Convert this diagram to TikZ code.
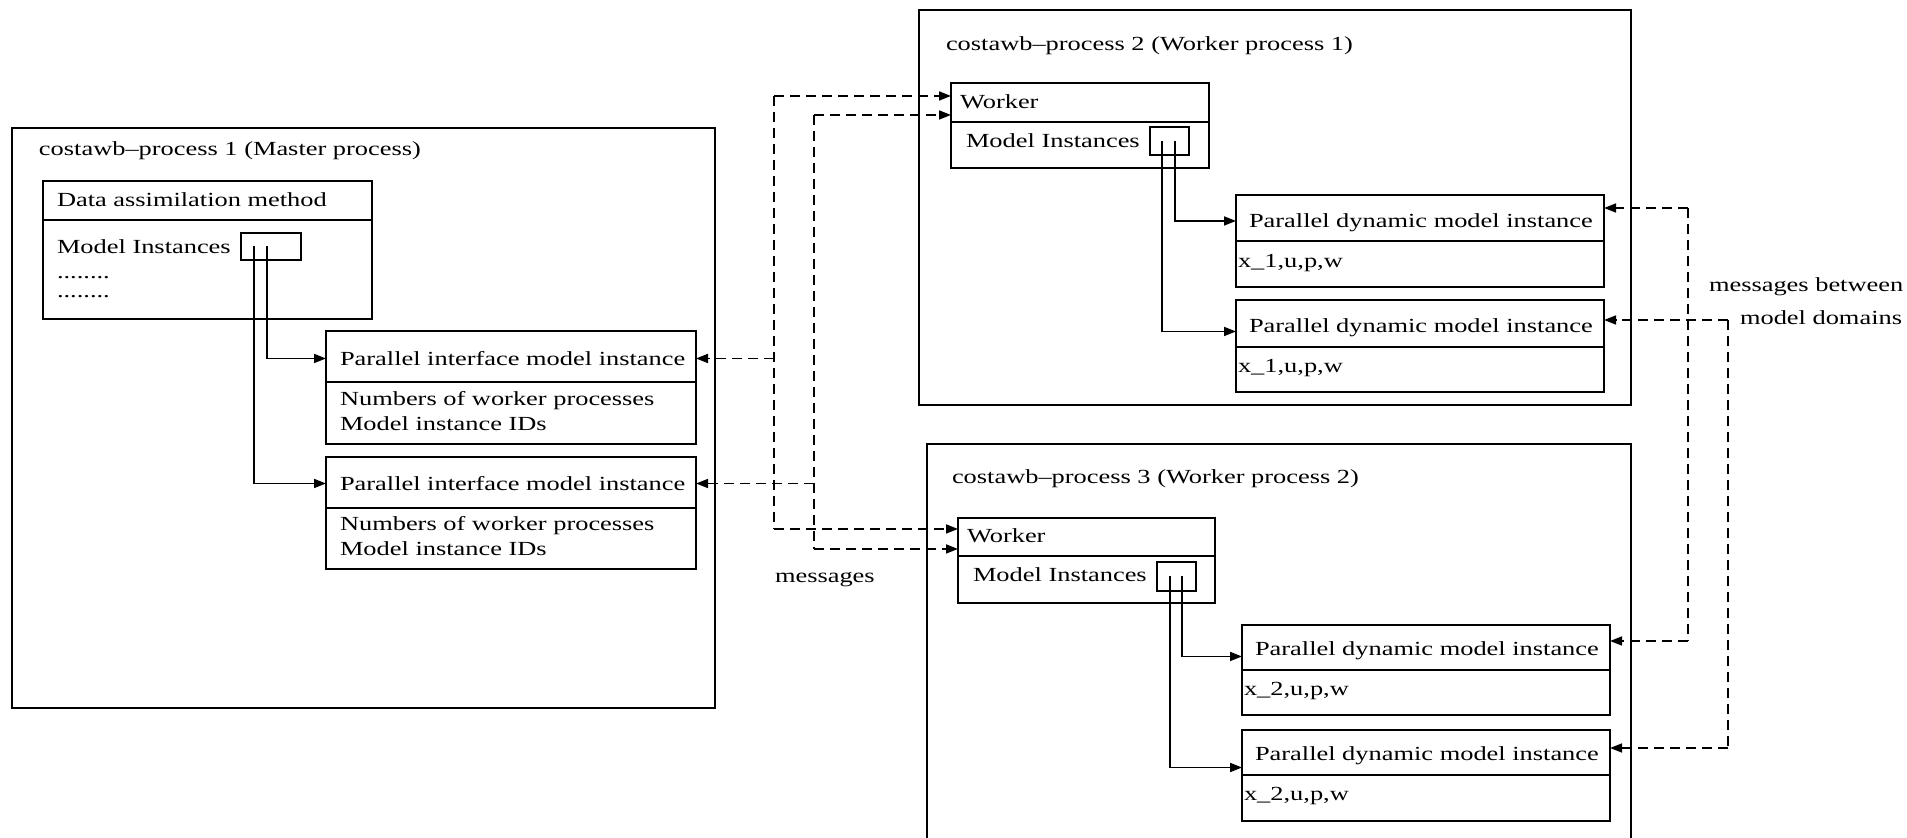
\documentclass[tikz,border=0pt]{standalone}
\usepackage{fontspec}
\setmainfont{Liberation Serif}[FakeStretch=1.32]
\usetikzlibrary{arrows.meta,fit}

\begin{document}
\begin{tikzpicture}[x=0.5pt,y=-0.5pt,
  every node/.style={inner sep=0pt,outer sep=0pt},
  frame/.style={draw,line width=0.85pt},
  lbl/.style={anchor=base west,font=\fontsize{10}{12.5}\selectfont},
  link/.style={line width=0.85pt,-{Triangle[length=6pt,width=4.5pt]}},
  msg/.style={line width=0.85pt,dash pattern=on 5pt off 3pt},
  msgtip/.style={msg,-{Triangle[length=6pt,width=4.5pt]}},
]
\useasboundingbox (0,0) rectangle (1907,838);

% ---------------- master process ----------------
\node[frame,fit={(12,128) (715,708)}] (proc1) {};
\node[lbl] (t1) at (39,156) {costawb--process 1 (Master process)};

\node[frame,fit={(43,181) (372,319)}] (da) {};
\node[frame,fit={(43,181) (372,220)}] (dah) {};
\node[lbl] (dat) at (57,207) {Data assimilation method};
\node[lbl] (dami) at (57,254) {Model Instances};
\node[frame,fit={(241,233) (301,260)}] (slot1) {};
\node[lbl] (dots1) at (57,279) {........};
\node[lbl] (dots2) at (57,298) {........};

\node[frame,fit={(326,331) (696,444)}] (pim1) {};
\node[frame,fit={(326,331) (696,382)}] (pim1h) {};
\node[lbl] (pim1t) at (340,366) {Parallel interface model instance};
\node[lbl] (pim1a) at (340,406) {Numbers of worker processes};
\node[lbl] (pim1b) at (340,431) {Model instance IDs};

\node[frame,fit={(326,457) (696,569)}] (pim2) {};
\node[frame,fit={(326,457) (696,508)}] (pim2h) {};
\node[lbl] (pim2t) at (340,491) {Parallel interface model instance};
\node[lbl] (pim2a) at (340,531) {Numbers of worker processes};
\node[lbl] (pim2b) at (340,556) {Model instance IDs};

% ---------------- worker process 1 ----------------
\node[frame,fit={(919,10) (1631,405)}] (proc2) {};
\node[lbl] (t2) at (946,51) {costawb--process 2 (Worker process 1)};

\node[frame,fit={(951,83) (1209,168)}] (w2) {};
\node[frame,fit={(951,83) (1209,122)}] (w2h) {};
\node[lbl] (w2t) at (960,109) {Worker};
\node[lbl] (w2mi) at (966,148) {Model Instances};
\node[frame,fit={(1150,127) (1189,155)}] (slot2) {};

\node[frame,fit={(1236,195) (1604,287)}] (pd1) {};
\node[frame,fit={(1236,195) (1604,241)}] (pd1h) {};
\node[lbl] (pd1t) at (1249,228) {Parallel dynamic model instance};
\node[lbl] (pd1v) at (1238,268) {x\_1,u,p,w};

\node[frame,fit={(1236,300) (1604,392)}] (pd2) {};
\node[frame,fit={(1236,300) (1604,347)}] (pd2h) {};
\node[lbl] (pd2t) at (1249,333) {Parallel dynamic model instance};
\node[lbl] (pd2v) at (1238,373) {x\_1,u,p,w};

% ---------------- worker process 2 ----------------
\node[frame,fit={(927,444) (1631,850)}] (proc3) {};
\node[lbl] (t3) at (952,484) {costawb--process 3 (Worker process 2)};

\node[frame,fit={(958,518) (1215,603)}] (w3) {};
\node[frame,fit={(958,518) (1215,556)}] (w3h) {};
\node[lbl] (w3t) at (967,543) {Worker};
\node[lbl] (w3mi) at (973,582) {Model Instances};
\node[frame,fit={(1157,562) (1196,591)}] (slot3) {};

\node[frame,fit={(1242,625) (1610,715)}] (pd3) {};
\node[frame,fit={(1242,625) (1610,670)}] (pd3h) {};
\node[lbl] (pd3t) at (1255,656) {Parallel dynamic model instance};
\node[lbl] (pd3v) at (1244,696) {x\_2,u,p,w};

\node[frame,fit={(1242,730) (1610,821)}] (pd4) {};
\node[frame,fit={(1242,730) (1610,775)}] (pd4h) {};
\node[lbl] (pd4t) at (1255,761) {Parallel dynamic model instance};
\node[lbl] (pd4v) at (1244,801) {x\_2,u,p,w};

% ---------------- labels ----------------
\node[lbl] (msgl) at (775,583) {messages};
\node[lbl] (msgr1) at (1709,292) {messages between};
\node[lbl] (msgr2) at (1740,325) {model domains};

% ---------------- instance links ----------------
\coordinate (s1a) at (267,246);
\coordinate (s1b) at (254,246);
\draw[link] (s1a) |- ([yshift=-1pt]pim1h.west);
\draw[link] (s1b) |- ([yshift=-0.5pt]pim2h.west);

\coordinate (s2a) at (1175,141);
\coordinate (s2b) at (1162,141);
\draw[link] (s2a) |- ([yshift=-1.5pt]pd1h.west);
\draw[link] (s2b) |- ([yshift=-4pt]pd2h.west);

\coordinate (s3a) at (1182,576);
\coordinate (s3b) at (1170,576);
\draw[link] (s3a) |- ([yshift=-4.5pt]pd3h.west);
\draw[link] (s3b) |- ([yshift=-7.5pt]pd4h.west);

% ---------------- master <-> worker messages ----------------
\coordinate (a1) at (774,96);
\coordinate (a2) at (774,529);
\coordinate (b1) at (814,115);
\coordinate (b2) at (814,549);
\draw[msg] (a1) -- (a2);
\draw[msg] (b1) -- (b2);
\draw[msgtip] (a1) -- (a1 -| w2h.west);
\draw[msgtip] (b1) -- (b1 -| w2h.west);
\draw[msgtip] (a2) -- (a2 -| w3h.west);
\draw[msgtip] (b2) -- (b2 -| w3h.west);
\draw[msgtip] ([yshift=-1pt]a1 |- pim1h.east) -- ([yshift=-1pt]pim1h.east);
\draw[msgtip] ([yshift=-0.5pt]b1 |- pim2h.east) -- ([yshift=-0.5pt]pim2h.east);

% ---------------- messages between model domains ----------------
\coordinate (c1) at (1688,208);
\coordinate (c2) at (1688,641);
\coordinate (d1) at (1728,320);
\coordinate (d2) at (1728,748);
\draw[msg] (c1) -- (c2);
\draw[msg] (d1) -- (d2);
\draw[msgtip] (c1) -- (c1 -| pd1h.east);
\draw[msgtip] (d1) -- (d1 -| pd2h.east);
\draw[msgtip] (c2) -- (c2 -| pd3h.east);
\draw[msgtip] (d2) -- (d2 -| pd4h.east);
\end{tikzpicture}
\end{document}
